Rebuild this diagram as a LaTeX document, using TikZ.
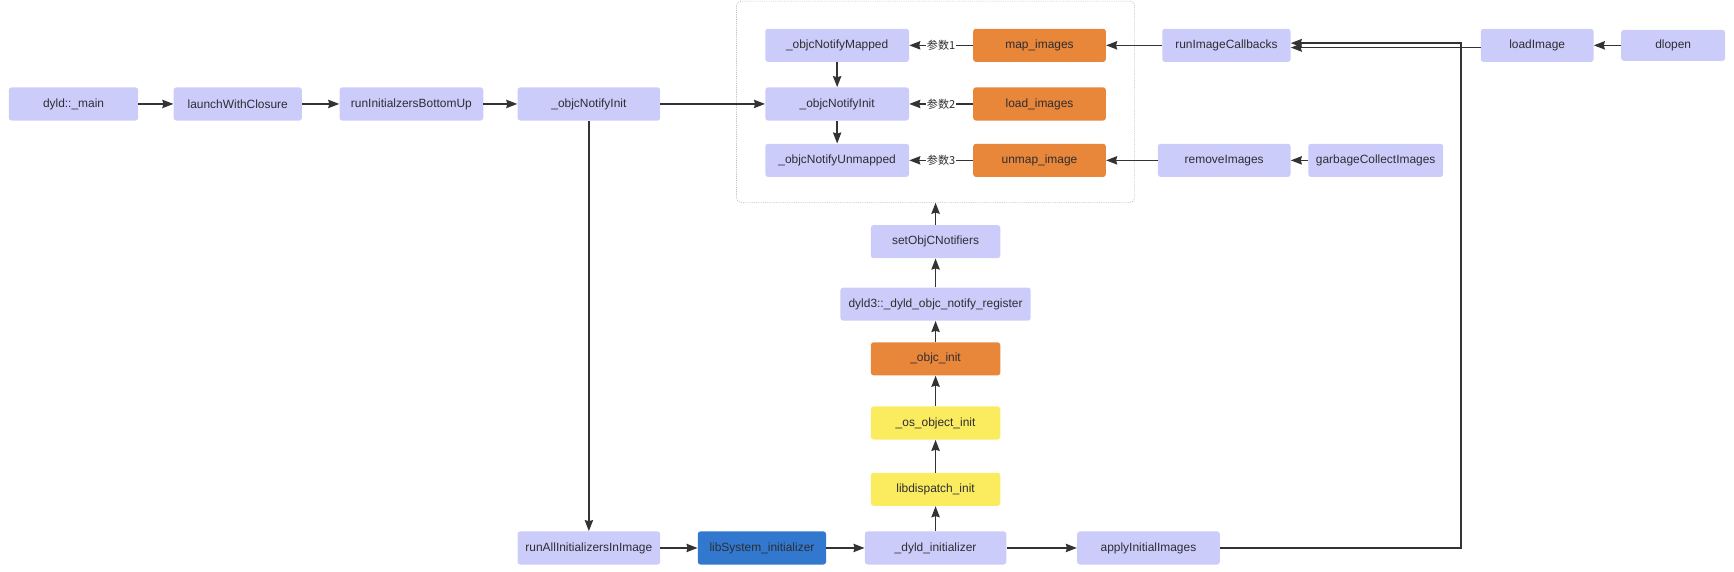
\documentclass[tikz,border=0pt]{standalone}
\usepackage{fontspec}
\setmainfont{Liberation Sans}
\newfontfamily\cjk{Noto Sans CJK SC}
\usetikzlibrary{arrows.meta}
\definecolor{pu}{RGB}{204,204,250}
\definecolor{orj}{RGB}{232,134,58}
\definecolor{yel}{RGB}{250,235,95}
\definecolor{blu}{RGB}{50,120,206}
\definecolor{txt}{RGB}{45,45,50}
\definecolor{ln}{RGB}{51,51,51}
\begin{document}
\begin{tikzpicture}[x=1pt,y=-1pt,
 nbox/.style={rounded corners=2.5pt, minimum height=30pt, inner sep=0pt, text=txt, font=\fontsize{10.8}{12}\selectfont},
 pbox/.style={nbox, fill=pu},
 obox/.style={nbox, fill=orj},
 ybox/.style={nbox, fill=yel},
 bluebox/.style={nbox, fill=blu},
 arr/.style={draw=ln, line width=1.5pt, -{Stealth[length=10pt,width=7.5pt,inset=1pt]}},
 lab/.style={fill=white, inner sep=1pt, text=txt, font=\cjk\fontsize{10}{12}\selectfont},
 grpbox/.style={draw=gray!50, line width=0.6pt, dash pattern=on 1pt off 1pt, rounded corners=4pt, inner sep=0pt}
]
\useasboundingbox (0,0) rectangle (1568,517);
% container
\node[grpbox, minimum width=360pt, minimum height=182pt] (grp) at (846,92) {};
% row 1
\node[pbox, minimum width=117pt] (main) at (66.5,94) {dyld::\_main};
\node[pbox, minimum width=116pt] (launch) at (215,94) {launchWithClosure};
\node[pbox, minimum width=130pt] (runinit) at (372,94) {runInitialzersBottomUp};
\node[pbox, minimum width=129pt] (ninit1) at (532.5,94) {\_objcNotifyInit};
% group content
\node[pbox, minimum width=130pt] (mapped) at (757,41) {\_objcNotifyMapped};
\node[pbox, minimum width=130pt] (ninit2) at (757,94) {\_objcNotifyInit};
\node[pbox, minimum width=130pt] (unmapped) at (757,145) {\_objcNotifyUnmapped};
\node[obox, minimum width=120pt] (mapimg) at (940,41) {map\_images};
\node[obox, minimum width=120pt] (loadimg) at (940,94) {load\_images};
\node[obox, minimum width=120pt] (unmapimg) at (940,145) {unmap\_image};
% right
\node[pbox, minimum width=116pt] (ric) at (1109,41) {runImageCallbacks};
\node[pbox, minimum width=102pt] (loadimage) at (1390,41) {loadImage};
\node[pbox, minimum width=94pt, minimum height=28pt] (dlopen) at (1513,41) {dlopen};
\node[pbox, minimum width=120pt] (removeimg) at (1107,145) {removeImages};
\node[pbox, minimum width=122pt] (gci) at (1244,145) {garbageCollectImages};
% central column
\node[pbox, minimum width=117pt] (setobjc) at (846,218.5) {setObjCNotifiers};
\node[pbox, minimum width=172pt] (reg) at (846,275) {dyld3::\_dyld\_objc\_notify\_register};
\node[obox, minimum width=117pt] (objcinit) at (846,324.5) {\_objc\_init};
\node[ybox, minimum width=117pt] (osobj) at (846,382.5) {\_os\_object\_init};
\node[ybox, minimum width=117pt] (libdisp) at (846,442.5) {libdispatch\_init};
% bottom row
\node[pbox, minimum width=129pt] (runall) at (532.5,495.5) {runAllInitializersInImage};
\node[bluebox, minimum width=116pt] (libsys) at (689,495.5) {libSystem\_initializer};
\node[pbox, minimum width=128pt] (dyldinit) at (846,495.5) {\_dyld\_initializer};
\node[pbox, minimum width=129pt] (apply) at (1038.5,495.5) {applyInitialImages};
\coordinate (turn) at (1321,495.5);
% edges
\draw[arr] (main) -- (launch);
\draw[arr] (launch) -- (runinit);
\draw[arr] (runinit) -- (ninit1);
\draw[arr] (ninit1) -- (ninit2);
\draw[arr] (ninit1) -- (runall);
\draw[arr] (mapped) -- (ninit2);
\draw[arr] (ninit2) -- (unmapped);
\draw[arr] (mapimg) -- node[lab]{参数1} (mapped);
\draw[arr] (loadimg) -- node[lab]{参数2} (ninit2);
\draw[arr] (unmapimg) -- node[lab]{参数3} (unmapped);
\draw[arr] (ric) -- (mapimg);
\draw[arr] (removeimg) -- (unmapimg);
\draw[arr] (gci) -- (removeimg);
\draw[arr] (dlopen) -- (loadimage);
\draw[arr] ([yshift=-2pt]loadimage.west) -- ([yshift=-2pt]ric.east);
\draw[arr] (apply.east) -- (turn) |- ([yshift=2pt]ric.east);
\draw[arr] (runall) -- (libsys);
\draw[arr] (libsys) -- (dyldinit);
\draw[arr] (dyldinit) -- (apply);
\draw[arr] (dyldinit) -- (libdisp);
\draw[arr] (libdisp) -- (osobj);
\draw[arr] (osobj) -- (objcinit);
\draw[arr] (objcinit) -- (reg);
\draw[arr] (reg) -- (setobjc);
\draw[arr] (setobjc) -- (grp);
\end{tikzpicture}
\end{document}
